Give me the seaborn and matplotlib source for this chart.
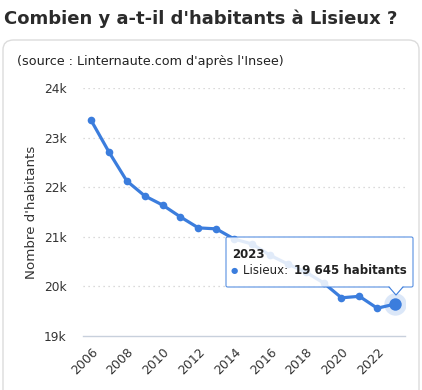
import matplotlib
matplotlib.use('Agg')
import matplotlib.pyplot as plt
from matplotlib.patches import FancyBboxPatch, Polygon
from matplotlib.lines import Line2D
import seaborn as sns
import pandas as pd

years = [2006, 2007, 2008, 2009, 2010, 2011, 2012, 2013, 2014, 2015,
         2016, 2017, 2018, 2019, 2020, 2021, 2022, 2023]
habitants = [23350, 22710, 22125, 21825, 21640, 21400, 21180, 21160, 20955, 20855,
             20630, 20450, 20290, 20070, 19770, 19800, 19560, 19645]
yticks = [19000, 20000, 21000, 22000, 23000, 24000]
ytick_labels = ['19k', '20k', '21k', '22k', '23k', '24k']
xticks = [2006, 2008, 2010, 2012, 2014, 2016, 2018, 2020, 2022]

df = pd.DataFrame({'annee': years, 'habitants': habitants})

sns.set_style('white')
plt.rcParams['font.family'] = ['DejaVu Sans']

blue = '#3b7ddd'
W, H = 422, 390
fig = plt.figure(figsize=(W / 100, H / 100), dpi=100)

# carte arrondie
card = FancyBboxPatch((3 / W, -20 / H), 416 / W, (H - 40 + 20) / H,
                      boxstyle='round,pad=0,rounding_size=0.025',
                      transform=fig.transFigure, facecolor='white',
                      edgecolor='#dcdcdc', linewidth=1, zorder=-5)
fig.patches.append(card)

fig.text(4 / W, 1 - 19 / H, "Combien y a-t-il d'habitants à Lisieux ?",
         fontsize=13, fontweight='bold', color='#2b2b2b', va='center')
fig.text(17 / W, 1 - 62 / H, "(source : Linternaute.com d'après l'Insee)",
         fontsize=9.2, color='#222222', va='center')

ax = fig.add_axes([83 / W, 1 - 336 / H, (405 - 83) / W, (336 - 88) / H])
ax.set_facecolor('none')

sns.lineplot(data=df, x='annee', y='habitants', ax=ax, color=blue,
             linewidth=2.3, marker='o', markersize=5.5, markeredgewidth=0)

# point survolé
last = df.iloc[-1]
ax.scatter([last['annee']], [last['habitants']], s=260, color=blue, alpha=0.18,
           linewidths=0, zorder=4)
ax.scatter([last['annee']], [last['habitants']], s=80, color=blue,
           linewidths=0, zorder=5)

ax.set_xlim(2005.55, 2023.55)
ax.set_ylim(19000, 24000)
ax.set_yticks(yticks)
ax.set_yticklabels(ytick_labels)
ax.set_xticks(xticks)
ax.set_xticklabels([str(x) for x in xticks], rotation=45, ha='right',
                   rotation_mode='anchor')
ax.tick_params(axis='y', length=0, pad=12, labelsize=8.8, labelcolor='#333333')
ax.tick_params(axis='x', length=5, width=0.8, color='#c8d0dc', pad=2,
               labelsize=9, labelcolor='#333333')
for y in yticks[1:]:
    ax.axhline(y, color='#cfcfcf', linewidth=0.9, linestyle=(0, (1, 3)), zorder=0)
for s in ['top', 'right', 'left']:
    ax.spines[s].set_visible(False)
ax.spines['bottom'].set_color('#c8d0dc')
ax.spines['bottom'].set_linewidth(1)
ax.set_xlabel('')
ax.set_ylabel("Nombre d'habitants", fontsize=9.6, color='#333333', labelpad=4)

# infobulle
tip = FancyBboxPatch((226 / W, 1 - 287 / H), (413 - 226) / W, (287 - 237) / H,
                     boxstyle='round,pad=0,rounding_size=0.004',
                     transform=fig.transFigure, facecolor='white', alpha=0.85,
                     edgecolor=blue, linewidth=0.8, zorder=10)
fig.patches.append(tip)
tri_x = [389 / W, 396 / W, 403 / W]
tri_y = [1 - 287 / H, 1 - 295 / H, 1 - 287 / H]
tri = Polygon(list(zip(tri_x, [tri_y[0] + 1 / H, tri_y[1], tri_y[2] + 1 / H])),
              closed=True, transform=fig.transFigure, facecolor='white',
              edgecolor='none', zorder=11)
fig.patches.append(tri)
fig.lines.append(Line2D(tri_x, tri_y, transform=fig.transFigure, color=blue,
                        linewidth=0.8, zorder=12))
fig.text(232 / W, 1 - 254 / H, '2023', fontsize=8.5, fontweight='bold',
         color='#222222', va='center', zorder=12)
fig.text(231 / W, 1 - 271 / H, '●', fontsize=6, color=blue, va='center', zorder=12)
fig.text(243 / W, 1 - 271 / H, 'Lisieux: ', fontsize=8.5, color='#222222',
         va='center', zorder=12)
fig.text(294 / W, 1 - 271 / H, '19 645 habitants', fontsize=8.5, fontweight='bold',
         color='#222222', va='center', zorder=12)

fig.savefig('out.png', dpi=100)
